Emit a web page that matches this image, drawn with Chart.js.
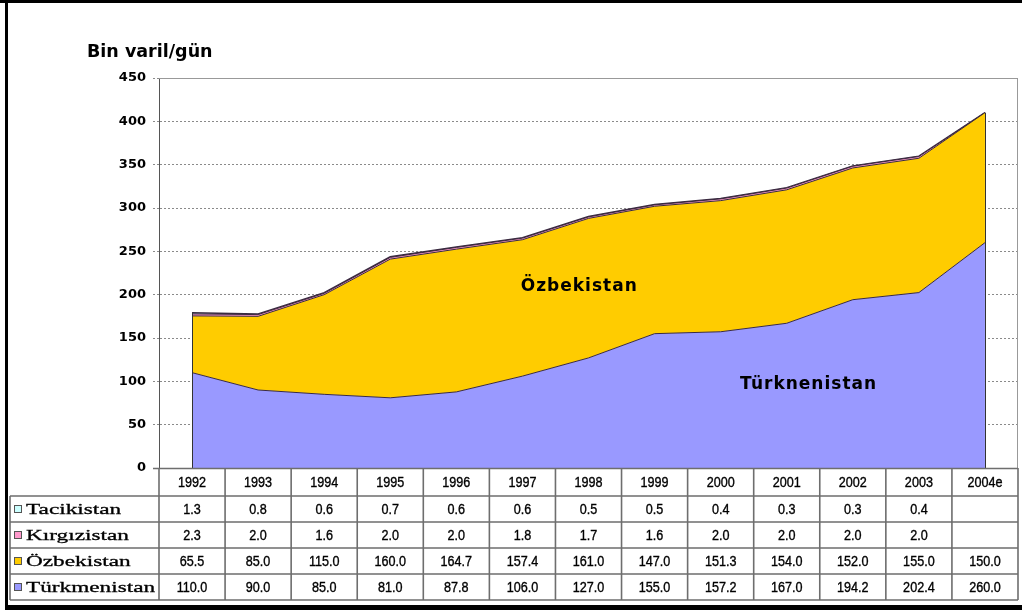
<!DOCTYPE html>
<html lang="tr">
<head>
<meta charset="utf-8">
<title>Bin varil/gün</title>
<script src="https://cdn.jsdelivr.net/npm/chart.js@4.4.1/dist/chart.umd.min.js"></script>
<style>
  html, body { margin: 0; padding: 0; background: #fff; }
  canvas { display: block; }
</style>
</head>
<body>
<canvas id="grafik" width="1022" height="610"></canvas>
<script>
// veriler (tablodan okunan degerler)
const yillar = ['1992', '1993', '1994', '1995', '1996', '1997', '1998', '1999', '2000', '2001', '2002', '2003', '2004e'];
const tacikistan = [1.3, 0.8, 0.6, 0.7, 0.6, 0.6, 0.5, 0.5, 0.4, 0.3, 0.3, 0.4, null];
const kirgizistan = [2.3, 2.0, 1.6, 2.0, 2.0, 1.8, 1.7, 1.6, 2.0, 2.0, 2.0, 2.0, null];
const ozbekistan = [65.5, 85.0, 115.0, 160.0, 164.7, 157.4, 161.0, 147.0, 151.3, 154.0, 152.0, 155.0, 150.0];
const turkmenistan = [110.0, 90.0, 85.0, 81.0, 87.8, 106.0, 127.0, 155.0, 157.2, 167.0, 194.2, 202.4, 260.0];

const yMin = 0, yMax = 450, yAdim = 50;
const birim = 'Bin varil/gün';

// tablo satirlari (ustten alta)
const satirlar = [
  { ad: 'Tacikistan', renk: '#ccffff', veri: tacikistan },
  { ad: 'Kırgızistan', renk: '#ff99cc', veri: kirgizistan },
  { ad: 'Özbekistan', renk: '#ffcc00', veri: ozbekistan },
  { ad: 'Türkmenistan', renk: '#9999ff', veri: turkmenistan }
];

// grafik icindeki yazilar (x: kategori indeksi, y: deger)
const etiketler = [
  { metin: 'Özbekistan', x: 5.86, y: 209 },
  { metin: 'Türknenistan', x: 9.33, y: 96 }
];

const sans = '"Liberation Sans", Arial, sans-serif';
const kalin = '"DejaVu Sans", sans-serif';

// dar ve biraz kalin tablo yazisi
function hucreYaz(ctx, metin, cx, cy) {
  ctx.save();
  ctx.translate(cx, cy);
  ctx.scale(0.9, 1);
  ctx.fillText(metin, 0, 0);
  ctx.strokeText(metin, 0, 0);
  ctx.restore();
}

const tabloPlugin = {
  id: 'tablo',
  afterDatasetsDraw(chart) {
    const ctx = chart.ctx;
    const alan = chart.chartArea;
    // alanin dikey kenarlari
    const meta = chart.getDatasetMeta(chart.data.datasets.length - 1);
    const pts = meta.data;
    ctx.save();
    ctx.strokeStyle = '#333';
    ctx.lineWidth = 1;
    [pts[0], pts[pts.length - 1]].forEach(p => {
      ctx.beginPath();
      ctx.moveTo(Math.round(p.x) + 0.5, p.y);
      ctx.lineTo(Math.round(p.x) + 0.5, alan.bottom);
      ctx.stroke();
    });
    ctx.restore();
  },
  afterDraw(chart) {
    const ctx = chart.ctx;
    const alan = chart.chartArea;
    const x = chart.scales.x;
    const y = chart.scales.y;
    ctx.save();

    // cerceve ust ve sag
    ctx.strokeStyle = '#999';
    ctx.lineWidth = 1;
    ctx.beginPath();
    ctx.moveTo(alan.left, alan.top + 0.5);
    ctx.lineTo(alan.right - 0.5, alan.top + 0.5);
    ctx.lineTo(alan.right - 0.5, alan.bottom);
    ctx.stroke();

    // grafik icindeki yazilar
    ctx.fillStyle = '#000';
    ctx.font = 'bold 17px ' + kalin;
    ctx.letterSpacing = '1px';
    ctx.textAlign = 'center';
    ctx.textBaseline = 'middle';
    etiketler.forEach(e => {
      ctx.fillText(e.metin, x.getPixelForValue(e.x), y.getPixelForValue(e.y));
    });
    ctx.letterSpacing = '0px';

    // baslik
    ctx.textAlign = 'left';
    ctx.textBaseline = 'alphabetic';
    ctx.font = 'bold 17.5px ' + kalin;
    ctx.fillText(birim, 87, 57);

    // veri tablosu
    const ust = alan.bottom;
    const basYuk = 28, satirYuk = 26, sol = 10;
    const sinir = [];
    for (let i = 0; i <= yillar.length; i++) sinir.push(x.getPixelForValue(i - 0.5));
    const sag = sinir[sinir.length - 1];
    const alt = ust + basYuk + satirYuk * satirlar.length;

    ctx.strokeStyle = '#6e6e6e';
    ctx.lineWidth = 1.6;
    ctx.beginPath();
    ctx.moveTo(alan.left - 6, ust + 0.5);
    ctx.lineTo(sag, ust + 0.5);
    for (let r = 0; r <= satirlar.length; r++) {
      const yy = ust + basYuk + r * satirYuk;
      ctx.moveTo(sol, yy);
      ctx.lineTo(sag, yy);
    }
    sinir.forEach(s => {
      ctx.moveTo(s, ust);
      ctx.lineTo(s, alt);
    });
    ctx.moveTo(sol, ust + basYuk);
    ctx.lineTo(sol, alt);
    ctx.stroke();

    ctx.fillStyle = '#000';
    ctx.strokeStyle = '#000';
    ctx.lineWidth = 0.35;
    ctx.textAlign = 'center';
    ctx.textBaseline = 'middle';
    ctx.font = '14px ' + sans;
    yillar.forEach((yil, i) => {
      hucreYaz(ctx, yil, x.getPixelForTick(i), ust + basYuk / 2 + 1);
    });

    satirlar.forEach((s, r) => {
      const orta = ust + basYuk + r * satirYuk + satirYuk / 2 + 1;
      ctx.font = '14px ' + sans;
      ctx.textAlign = 'center';
      ctx.fillStyle = '#000';
      ctx.strokeStyle = '#000';
      ctx.lineWidth = 0.35;
      s.veri.forEach((v, i) => {
        if (v === null) return;
        hucreYaz(ctx, v.toFixed(1), x.getPixelForTick(i), orta);
      });
      // lejant kutusu
      ctx.fillStyle = s.renk;
      ctx.fillRect(14, orta - 5, 8, 8);
      ctx.strokeStyle = '#555';
      ctx.lineWidth = 1;
      ctx.strokeRect(14.5, orta - 4.5, 7, 7);
      // seri adi (genis serif)
      ctx.fillStyle = '#000';
      ctx.strokeStyle = '#000';
      ctx.lineWidth = 0.3;
      ctx.save();
      ctx.font = '15.5px "Liberation Serif", "Times New Roman", serif';
      ctx.textAlign = 'left';
      ctx.translate(26, orta);
      ctx.scale(1.5, 1);
      ctx.fillText(s.ad, 0, 0);
      ctx.strokeText(s.ad, 0, 0);
      ctx.restore();
    });

    // siyah dis cerceve
    ctx.fillStyle = '#000';
    ctx.fillRect(0, 0, chart.width, 3);
    ctx.fillRect(5, 0, 3, chart.height);
    ctx.fillRect(5, chart.height - 5, chart.width - 5, 5);
    ctx.restore();
  }
};

const sifir = v => (v === null ? 0 : v);

const ctx = document.getElementById('grafik').getContext('2d');
new Chart(ctx, {
  type: 'line',
  data: {
    labels: yillar,
    datasets: [
      { label: 'Türkmenistan', data: turkmenistan, backgroundColor: '#9999ff', fill: 'origin', borderWidth: 1 },
      { label: 'Özbekistan', data: ozbekistan, backgroundColor: '#ffcc00', fill: '-1', borderWidth: 1 },
      { label: 'Kırgızistan', data: kirgizistan.map(sifir), backgroundColor: '#ff99cc', fill: '-1', borderWidth: 1 },
      { label: 'Tacikistan', data: tacikistan.map(sifir), backgroundColor: '#ccffff', fill: '-1', borderWidth: 1.5 }
    ].map(d => Object.assign(d, { borderColor: '#3a2a40', pointRadius: 0, tension: 0 }))
  },
  options: {
    responsive: false,
    animation: false,
    layout: { padding: { top: 78, right: 4, bottom: 142, left: 0 } },
    plugins: {
      legend: { display: false },
      tooltip: { enabled: false }
    },
    scales: {
      x: { display: false, offset: true },
      y: {
        stacked: true,
        min: yMin,
        max: yMax,
        ticks: {
          stepSize: yAdim,
          padding: 7,
          color: '#000',
          font: { family: kalin, size: 13, weight: 'bold' }
        },
        grid: { color: '#8a8a8a', tickLength: 6, tickColor: '#8a8a8a', tickBorderDash: [2, 2] },
        border: { color: '#555', width: 1, dash: [2, 2] },
        afterFit(scale) { scale.width = 159; }
      }
    }
  },
  plugins: [tabloPlugin]
});
</script>
</body>
</html>
